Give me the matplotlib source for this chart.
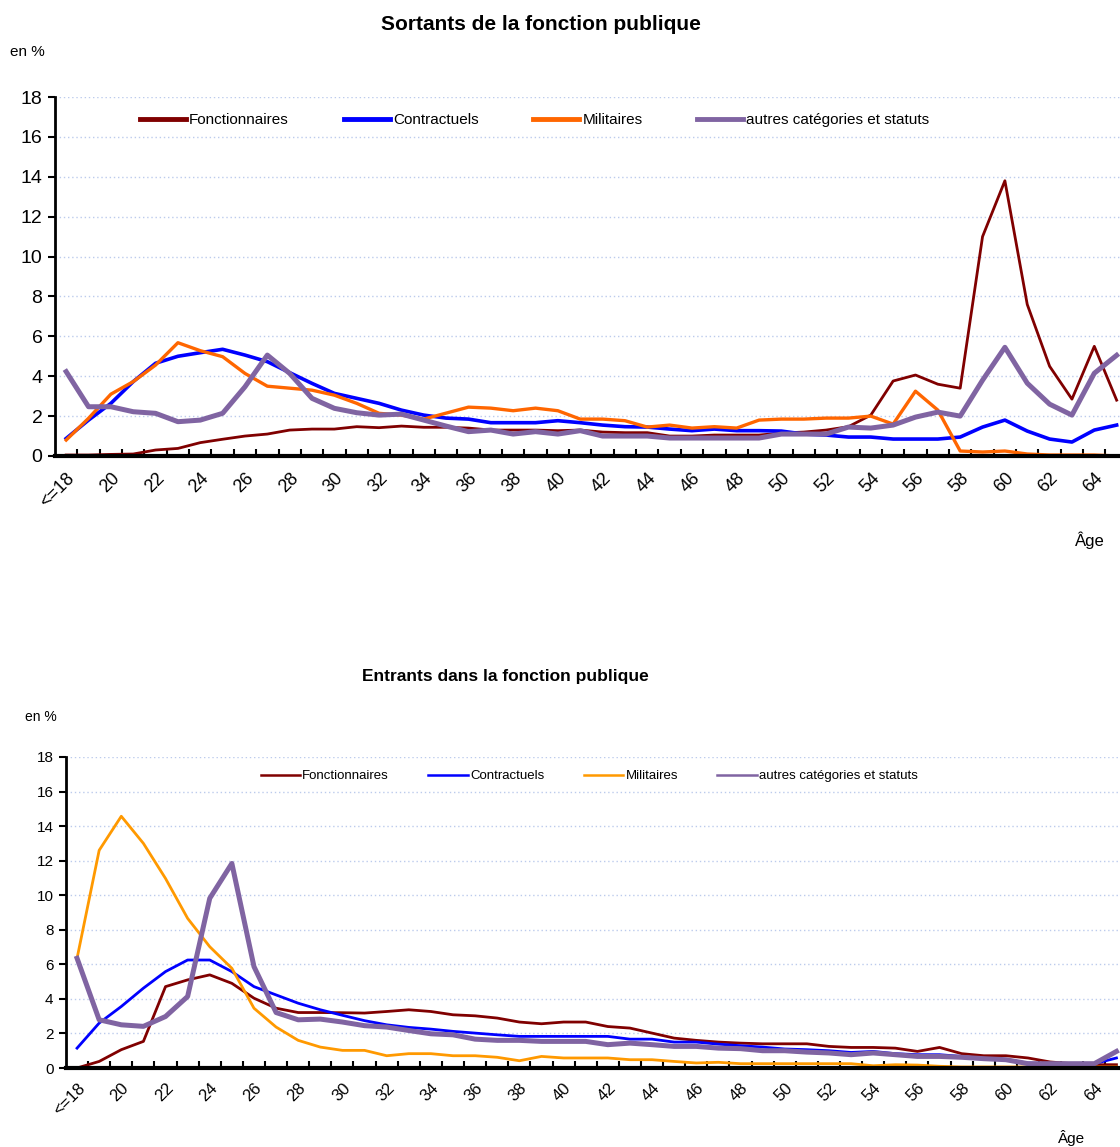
import matplotlib
matplotlib.use("Agg")
import matplotlib.pyplot as plt
import numpy as np

plt.rcParams['font.family'] = ['Liberation Sans', 'DejaVu Sans']

# Ages 18 (incl. younger) to 65
ages = list(range(18, 66))
tick_ages = list(range(18, 65, 2))
tick_labels = ["<=18"] + [str(a) for a in range(20, 65, 2)]

series_names = ["Fonctionnaires", "Contractuels", "Militaires", "autres catégories et statuts"]

# Sortants de la fonction publique (en %)
fonct_s = [0.05, 0.05, 0.08, 0.1, 0.3, 0.38, 0.67, 0.84, 1.0, 1.1, 1.3, 1.35, 1.35, 1.47, 1.42, 1.5,
           1.44, 1.44, 1.4, 1.3, 1.3, 1.3, 1.27, 1.3, 1.2, 1.17, 1.17, 1.0, 1.0, 1.05, 1.05, 1.05,
           1.15, 1.2, 1.3, 1.47, 2.05, 3.76, 4.06, 3.6, 3.4, 11.0, 13.8, 7.6, 4.5, 2.85, 5.5, 2.8]
contr_s = [0.88, 1.8, 2.64, 3.73, 4.65, 5.0, 5.18, 5.35, 5.06, 4.73, 4.18, 3.64, 3.14, 2.89, 2.64, 2.3,
           2.05, 1.9, 1.85, 1.67, 1.67, 1.67, 1.77, 1.67, 1.55, 1.47, 1.45, 1.35, 1.27, 1.35, 1.27, 1.27,
           1.25, 1.1, 1.05, 0.95, 0.95, 0.85, 0.85, 0.85, 0.95, 1.45, 1.8, 1.25, 0.85, 0.7, 1.3, 1.55]
milit_s = [0.8, 1.89, 3.1, 3.73, 4.56, 5.68, 5.28, 4.98, 4.14, 3.5, 3.4, 3.3, 3.05, 2.64, 2.14, 2.05,
           1.85, 2.15, 2.45, 2.4, 2.27, 2.4, 2.27, 1.85, 1.85, 1.77, 1.45, 1.55, 1.4, 1.47, 1.4, 1.8,
           1.85, 1.85, 1.9, 1.9, 2.0, 1.6, 3.25, 2.3, 0.25, 0.2, 0.25, 0.1, 0.05, 0.05, 0.05, 0.0]
autres_s = [4.23, 2.47, 2.47, 2.22, 2.14, 1.72, 1.8, 2.14, 3.47, 5.06, 4.14, 2.89, 2.39, 2.17, 2.05, 2.1,
            1.8, 1.5, 1.22, 1.3, 1.1, 1.22, 1.1, 1.27, 1.0, 1.0, 1.0, 0.9, 0.9, 0.9, 0.9, 0.9,
            1.1, 1.1, 1.1, 1.45, 1.4, 1.55, 1.95, 2.2, 2.0, 3.8, 5.45, 3.65, 2.6, 2.05, 4.15, 5.05]

# Entrants dans la fonction publique (en %)
fonct_e = [0.0, 0.38, 1.06, 1.54, 4.71, 5.1, 5.39, 4.9, 4.04, 3.46, 3.21, 3.21, 3.2, 3.18, 3.27, 3.37,
           3.27, 3.08, 3.02, 2.89, 2.66, 2.56, 2.66, 2.66, 2.4, 2.31, 2.02, 1.73, 1.6, 1.5, 1.44, 1.4,
           1.4, 1.4, 1.25, 1.19, 1.19, 1.15, 0.96, 1.19, 0.83, 0.71, 0.71, 0.58, 0.35, 0.25, 0.19, 0.19]
contr_e = [1.15, 2.6, 3.56, 4.62, 5.58, 6.25, 6.25, 5.58, 4.71, 4.23, 3.75, 3.37, 3.05, 2.74, 2.5, 2.35,
           2.25, 2.12, 2.02, 1.92, 1.83, 1.83, 1.83, 1.83, 1.83, 1.67, 1.67, 1.5, 1.5, 1.38, 1.29, 1.21,
           1.1, 1.06, 1.0, 0.9, 0.96, 0.83, 0.77, 0.77, 0.67, 0.52, 0.48, 0.29, 0.25, 0.25, 0.25, 0.58]
milit_e = [6.35, 12.6, 14.57, 13.0, 10.97, 8.66, 7.02, 5.77, 3.46, 2.37, 1.6, 1.21, 1.02, 1.02, 0.71, 0.83,
           0.83, 0.71, 0.71, 0.62, 0.42, 0.67, 0.58, 0.58, 0.58, 0.48, 0.48, 0.38, 0.29, 0.33, 0.25, 0.25,
           0.25, 0.25, 0.25, 0.25, 0.13, 0.19, 0.17, 0.1, 0.06, 0.06, 0.06, 0.06, 0.06, 0.06, 0.06, 0.06]
autres_e = [6.35, 2.79, 2.5, 2.41, 2.98, 4.14, 9.82, 11.84, 5.87, 3.21, 2.79, 2.83, 2.66, 2.45, 2.37, 2.17,
            1.98, 1.92, 1.67, 1.6, 1.6, 1.54, 1.54, 1.54, 1.35, 1.44, 1.35, 1.25, 1.25, 1.15, 1.12, 1.0,
            1.0, 0.92, 0.87, 0.77, 0.87, 0.77, 0.67, 0.67, 0.62, 0.54, 0.48, 0.25, 0.25, 0.25, 0.25, 0.96]

W, H = 1120, 1147
fig = plt.figure(figsize=(W / 100, H / 100), dpi=100)


def px_axes(left, top, right, bottom):
    return fig.add_axes([left / W, 1 - bottom / H, (right - left) / W, (bottom - top) / H])


def style_axes(ax, xmax, ytick_size, xtick_size, xpad):
    ax.set_xlim(17.5, xmax)
    ax.set_ylim(0, 18)
    ax.set_yticks(range(0, 19, 2))
    for y in range(2, 19, 2):
        ax.axhline(y, color="#BCCBEC", lw=1.0, ls=(0, (1, 2)), zorder=0)
    for s in ["top", "right"]:
        ax.spines[s].set_visible(False)
    ax.spines["left"].set_linewidth(2.0)
    ax.spines["bottom"].set_linewidth(3.0)
    ax.tick_params(axis="y", direction="out", length=5, width=1.5, labelsize=ytick_size, pad=4)
    ax.set_xticks(tick_ages)
    ax.set_xticklabels(tick_labels, rotation=45, ha="right", va="top",
                       rotation_mode="anchor", fontsize=xtick_size)
    ax.tick_params(axis="x", which="major", length=0, pad=xpad)
    ax.set_xticks(np.arange(18.5, 65, 1), minor=True)
    ax.tick_params(axis="x", which="minor", direction="in", length=5, width=1.5)


# ---- Sortants ----
ax1 = px_axes(55, 97, 1120, 456)
ax1.plot(ages, fonct_s, color="#800000", lw=2.0, label=series_names[0])
ax1.plot(ages, contr_s, color="#0000FF", lw=2.6, label=series_names[1])
ax1.plot(ages, milit_s, color="#FF6600", lw=2.4, label=series_names[2])
ax1.plot(ages, autres_s, color="#8064A2", lw=3.6, label=series_names[3])
style_axes(ax1, 65.15, 14, 13, 10)
leg1 = ax1.legend(loc="center left", bbox_to_anchor=(128 / W, 1 - 120 / H),
                  bbox_transform=fig.transFigure, ncol=4, frameon=True, fontsize=11,
                  handlelength=3.0, handletextpad=0.2, columnspacing=3.6, borderpad=0.3)
leg1.get_frame().set_facecolor("white")
leg1.get_frame().set_edgecolor("none")
for h in leg1.get_lines():
    h.set_linewidth(3.5)

fig.text(541 / W, 1 - 25 / H, "Sortants de la fonction publique", ha="center", va="center",
         fontsize=15, fontweight="bold")
fig.text(10 / W, 1 - 52 / H, "en %", ha="left", va="center", fontsize=11)
fig.text(1090 / W, 1 - 540 / H, "Âge", ha="center", va="center", fontsize=12)

# ---- Entrants ----
ax2 = px_axes(66, 757, 1120, 1068)
ax2.plot(ages, fonct_e, color="#800000", lw=2.0, label=series_names[0])
ax2.plot(ages, contr_e, color="#0000FF", lw=2.0, label=series_names[1])
ax2.plot(ages, milit_e, color="#FF9900", lw=2.0, label=series_names[2])
ax2.plot(ages, autres_e, color="#8064A2", lw=3.6, label=series_names[3])
style_axes(ax2, 65.16, 11, 12, 9)
leg2 = ax2.legend(loc="center left", bbox_to_anchor=(250 / W, 1 - 776 / H),
                  bbox_transform=fig.transFigure, ncol=4, frameon=True, fontsize=9.5,
                  handlelength=3.0, handletextpad=0.15, columnspacing=3.0, borderpad=0.3)
leg2.get_frame().set_facecolor("white")
leg2.get_frame().set_edgecolor("none")
for h in leg2.get_lines():
    h.set_linewidth(1.8)

fig.text(505 / W, 1 - 676 / H, "Entrants dans la fonction publique", ha="center", va="center",
         fontsize=12.5, fontweight="bold")
fig.text(25 / W, 1 - 717 / H, "en %", ha="left", va="center", fontsize=10)
fig.text(1072 / W, 1 - 1138 / H, "Âge", ha="center", va="center", fontsize=11)

fig.savefig("out.png", dpi=100)
